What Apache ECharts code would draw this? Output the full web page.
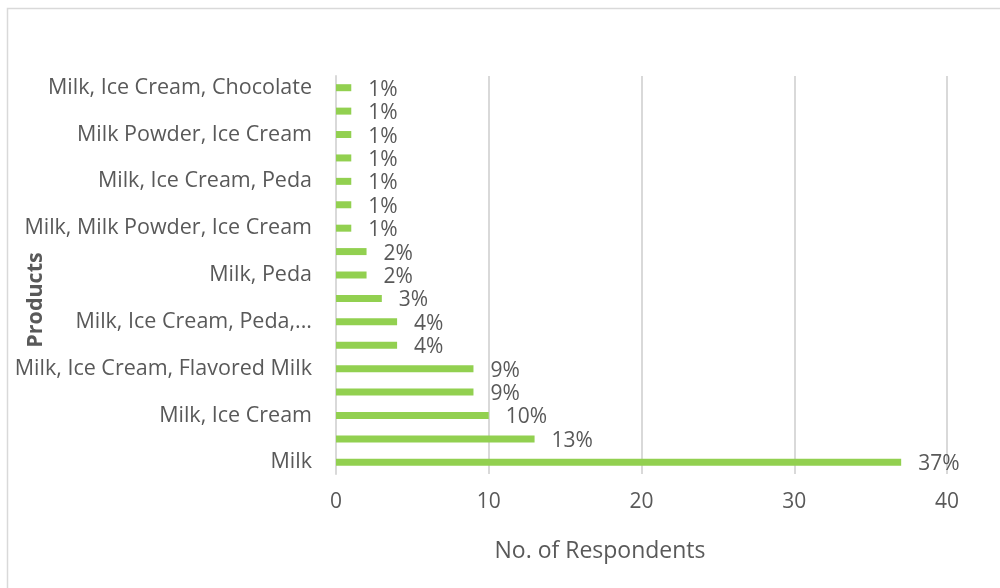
<!DOCTYPE html>
<html>
<head>
<meta charset="utf-8">
<script src="https://cdn.jsdelivr.net/npm/echarts@6/dist/echarts.min.js"></script>
<style>
  html, body { margin: 0; padding: 0; background: #fff; }
  #chart { width: 1000px; height: 588px; }
</style>
</head>
<body>
<div id="chart"></div>
<script>
// Product combinations, listed from the bottom of the axis upward
var products = [
  'Milk',
  'Milk, Curd',
  'Milk, Ice Cream',
  'Milk, Flavored Milk',
  'Milk, Ice Cream, Flavored Milk',
  'Milk, Milk Powder',
  'Milk, Ice Cream, Peda,...',
  'Milk, Chocolate',
  'Milk, Peda',
  'Milk, Ice Cream, Milk Powder',
  'Milk, Milk Powder, Ice Cream',
  'Milk, Ghee',
  'Milk, Ice Cream, Peda',
  'Milk, Butter',
  'Milk Powder, Ice Cream',
  'Milk, Ice Cream, Ghee',
  'Milk, Ice Cream, Chocolate'
];
// Number of respondents for each combination (100 respondents in total)
var respondents = [37, 13, 10, 9, 9, 4, 4, 3, 2, 2, 1, 1, 1, 1, 1, 1, 1];
var xTicks = [0, 10, 20, 30, 40];

var FONT = 'Open Sans';
var TEXT = '#595959';
var chart = echarts.init(document.getElementById('chart'));
chart.setOption({
  backgroundColor: '#ffffff',
  animation: false,
  textStyle: { fontFamily: FONT },
  grid: { left: 336, right: 53, top: 76, bottom: 114, containLabel: false },
  xAxis: {
    type: 'value',
    min: xTicks[0],
    max: xTicks[xTicks.length - 1],
    interval: 10,
    axisLine: { show: false },
    axisTick: { show: false },
    splitLine: { show: true, lineStyle: { color: '#d9d9d9', width: 2 } },
    axisLabel: { color: TEXT, fontSize: 21, margin: 18, fontFamily: FONT }
  },
  yAxis: {
    type: 'category',
    data: products,
    axisLine: { show: true, lineStyle: { color: '#d9d9d9', width: 2 } },
    axisTick: { show: false },
    axisLabel: { interval: 1, color: TEXT, fontSize: 21.5, margin: 24, fontFamily: FONT }
  },
  series: [{
    type: 'bar',
    data: respondents,
    barWidth: 7,
    itemStyle: { color: '#92d050' },
    label: {
      show: true,
      position: 'right',
      distance: 17,
      offset: [0, 2],
      color: TEXT,
      fontSize: 21,
      fontFamily: FONT,
      formatter: function (p) { return p.value + '%'; }
    }
  }],
  graphic: [
    {
      type: 'rect',
      shape: { x: 7.5, y: 8.5, width: 1100, height: 700 },
      style: { fill: 'none', stroke: '#d9d9d9', lineWidth: 1.5 },
      silent: true
    },
    {
      type: 'text',
      x: 36, y: 300,
      rotation: Math.PI / 2,
      style: {
        text: 'Products',
        fill: TEXT,
        font: 'bold 21.5px "' + FONT + '"',
        align: 'center',
        verticalAlign: 'middle'
      }
    },
    {
      type: 'text',
      x: 600, y: 551,
      style: {
        text: 'No. of Respondents',
        fill: TEXT,
        font: '23px "' + FONT + '"',
        align: 'center',
        verticalAlign: 'middle'
      }
    }
  ]
});
</script>
</body>
</html>
